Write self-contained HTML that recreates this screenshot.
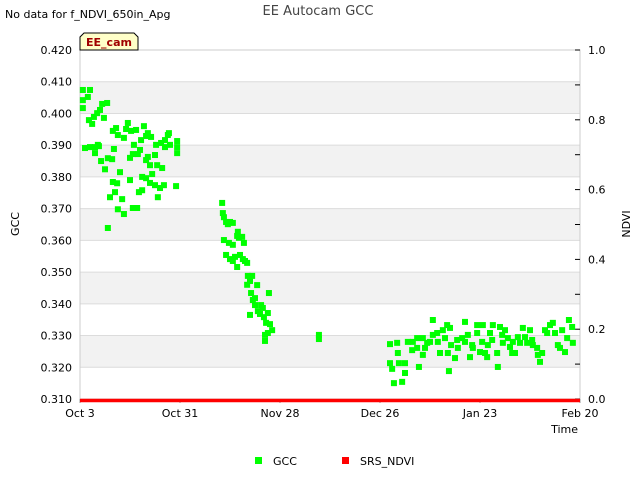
<!DOCTYPE html>
<html><head><meta charset="utf-8"><style>
body{margin:0;background:#fff;font-family:"Liberation Sans","DejaVu Sans",sans-serif;}
svg text{font-family:"DejaVu Sans","Liberation Sans",sans-serif;}
</style></head><body>
<svg id="chart" width="640" height="480" xmlns="http://www.w3.org/2000/svg">
<text x="5" y="18" font-size="11" fill="#000">No data for f_NDVI_650in_Apg</text>
<text x="318" y="15" font-size="13" fill="#444" text-anchor="middle">EE Autocam GCC</text>
<g id="plot"></g>
<text transform="translate(19,224) rotate(-90)" font-size="11" text-anchor="middle">GCC</text>
<text transform="translate(630,224) rotate(-90)" font-size="11" text-anchor="middle">NDVI</text>
<text x="578" y="433" font-size="11" text-anchor="end">Time</text>
<g>
<g><rect x="255" y="457" width="7" height="7" fill="#00ff00"/><text x="273" y="465" font-size="11">GCC</text></g>
<g><rect x="342" y="457" width="7" height="7" fill="#ff0000"/><text x="360" y="465" font-size="11">SRS_NDVI</text></g>
</g>
<g>
<path d="M80,50 L80,37 L84,33 L134,33 L138,37 L138,50 Z" fill="#ffffc8" stroke="#000" stroke-width="1"/>
<text x="109" y="46" font-size="11" font-weight="bold" fill="#a00000" text-anchor="middle">EE_cam</text>
</g>
</svg>
<script>
const gccDays=[0.8,2.8,2.2,0.8,0.8,1.4,2.8,4.2,5.3,3.9,4.8,5.6,6.2,7.6,6.7,2.5,3.4,4.2,5.0,7.8,5.9,7.0,9.0,9.5,9.2,10.4,11.2,8.4,9.8,10.6,11.8,12.3,7.8,10.6,9.2,10.1,12.3,12.9,13.4,14.3,14.0,14.8,15.1,15.7,16.2,16.8,17.1,16.5,14.0,14.8,16.0,17.4,18.5,19.6,20.2,19.0,19.6,21.0,21.3,18.5,17.9,19.0,19.9,18.5,21.6,21.8,22.4,23.0,23.8,24.6,25.2,24.9,27.2,27.2,27.2,26.9,23.5,21.0,17.4,22.7,23.8,
39.8,40.0,40.3,40.9,41.4,42.0,42.8,40.3,41.7,42.8,44.0,44.2,44.5,45.4,45.9,40.9,42.0,42.8,43.4,44.0,44.8,45.6,46.2,46.8,47.0,47.6,48.2,46.8,47.9,48.4,49.0,49.6,49.0,49.8,50.4,50.7,51.2,51.5,52.1,52.6,53.2,53.8,51.8,52.6,51.8,52.9,47.6,
66.9,66.9,
86.8,86.8,87.4,87.9,88.8,89.0,89.3,90.2,91.0,91.0,91.8,93.0,93.2,94.4,94.4,94.9,96.0,96.0,96.6,97.2,98.0,98.8,98.8,100.0,100.2,100.8,101.6,102.2,102.8,103.0,103.6,103.9,103.3,105.0,105.6,105.8,107.0,107.8,107.8,108.6,109.2,109.8,110.0,111.2,111.2,112.0,112.6,112.8,113.4,114.0,114.2,114.8,115.4,115.6,116.8,117.0,117.6,118.2,118.4,119.0,119.8,120.4,121.0,121.2,121.8,122.6,123.2,124.0,124.6,125.2,126.0,126.6,126.8,128.0,128.2,128.8,129.4,130.2,130.8,131.6,132.4,133.0,133.8,134.4,135.0,135.8,136.4,136.9,137.8,138.0];
const gccValues=[.4074,.4074,.4052,.4042,.4017,.3891,.3894,.3894,.3897,.3989,.4001,.4011,.4030,.4033,.3986,.3979,.3967,.3875,.3901,.3859,.3850,.3824,.3856,.3888,.3784,.3780,.3815,.3736,.3752,.3698,.3730,.3683,.3639,.3932,.3945,.3954,.3923,.3951,.3970,.3945,.3860,.3872,.3901,.3948,.3872,.3885,.3916,.3752,.3790,.3702,.3702,.3800,.3796,.3781,.3809,.3863,.3837,.3869,.3901,.3853,.3960,.3938,.3926,.3929,.3837,.3736,.3765,.3828,.3916,.3932,.3901,.3938,.3913,.3894,.3875,.3771,.3774,.3774,.3758,.3907,.3894,
.3718,.3686,.3673,.3658,.3651,.3658,.3655,.3601,.3592,.3586,.3614,.3627,.3608,.3611,.3592,.3554,.3541,.3535,.3548,.3516,.3554,.3541,.3535,.3529,.3488,.3472,.3488,.3460,.3434,.3412,.3418,.3459,.3396,.3377,.3368,.3396,.3387,.3358,.3340,.3371,.3336,.3317,.3302,.3308,.3283,.3434,.3365,
.3302,.3289,
.3273,.3213,.3195,.3150,.3277,.3245,.3213,.3154,.3213,.3182,.3280,.3254,.3280,.3292,.3261,.3201,.3292,.3239,.3261,.3277,.3280,.3349,.3302,.3308,.3280,.3245,.3317,.3292,.3333,.3245,.3324,.3270,.3188,.3229,.3286,.3261,.3292,.3343,.3280,.3302,.3232,.3270,.3261,.3333,.3308,.3248,.3280,.3333,.3245,.3232,.3270,.3308,.3286,.3333,.3245,.3201,.3327,.3302,.3277,.3317,.3292,.3264,.3245,.3280,.3245,.3295,.3277,.3324,.3295,.3277,.3317,.3286,.3270,.3261,.3239,.3217,.3245,.3317,.3308,.3333,.3340,.3308,.3270,.3261,.3317,.3248,.3292,.3349,.3327,.3277];
const ndviDays=[0,10,20,30,40,50,60,70,80,90,100,110,120,130,140];
const ndviValues=[0,0,0,0,0,0,0,0,0,0,0,0,0,0,0];
const yTicks=[0.310,0.320,0.330,0.340,0.350,0.360,0.370,0.380,0.390,0.400,0.410,0.420];
const y2Ticks=[0.0,0.2,0.4,0.6,0.8,1.0];
const xTickDays=[0,28,56,84,112,140];
const xTickLabels=["Oct 3","Oct 31","Nov 28","Dec 26","Jan 23","Feb 20"];

const L=80,R=580,T=50,B=399;
const xs=d=>L+(d-0)/(140-0)*(R-L);
const ys=v=>B-(v-0.310)/(0.420-0.310)*(B-T);
const y2s=v=>B-v/1.0*(B-T);
const NS="http://www.w3.org/2000/svg";
const plot=document.getElementById('plot');
function mk(tag,attrs,parent){const e=document.createElementNS(NS,tag);for(const k in attrs)e.setAttribute(k,attrs[k]);(parent||plot).appendChild(e);return e;}

// bands
for(let i=0;i<yTicks.length-1;i++){
  if(i%2===1){
    const b=mk('rect',{x:L,y:ys(yTicks[i+1]),width:R-L,height:ys(yTicks[i])-ys(yTicks[i+1]),fill:'#f2f2f2'});
    
    
  }
}
yTicks.forEach(v=>{
  const g=mk('line',{x1:L,x2:R,y1:ys(v),y2:ys(v),stroke:'#dcdcdc','stroke-width':1});
  
  
  const t=mk('text',{x:L-8,y:ys(v)+4,'font-size':11,'text-anchor':'end',fill:'#000'});
  t.textContent=v.toFixed(3);
  
  
});
const fr=mk('rect',{x:L,y:T,width:R-L,height:B-T,fill:'none',stroke:'#cccccc'});


y2Ticks.forEach(v=>{
  mk('line',{x1:R-5,x2:R,y1:y2s(v),y2:y2s(v),stroke:'#000'});
  const t=mk('text',{x:R+8,y:y2s(v)+4,'font-size':11,fill:'#000'});
  t.textContent=v.toFixed(1);
  
  
});
[0.1,0.3,0.5,0.7,0.9].forEach(v=>mk('line',{x1:R-5,x2:R,y1:y2s(v),y2:y2s(v),stroke:'#000'}));
xTickDays.forEach((d,i)=>{
  mk('line',{x1:xs(d),x2:xs(d),y1:B,y2:B+4,stroke:'#999'});
  const t=mk('text',{x:xs(d),y:B+18,'font-size':11,'text-anchor':'middle',fill:'#000'});
  t.textContent=xTickLabels[i];
  
  
});
// NDVI line
const pts=ndviDays.map((d,i)=>xs(d)+','+(y2s(ndviValues[i])+1.5)).join(' ');
const nl=mk('polyline',{points:pts,fill:'none',stroke:'#ff0000','stroke-width':3.5});


// GCC points
gccDays.forEach((d,i)=>{
  const p=mk('rect',{x:xs(d)-3,y:ys(gccValues[i])-3,width:6,height:6,fill:'#00ff00'});
  
  
});
</script>
</body></html>
